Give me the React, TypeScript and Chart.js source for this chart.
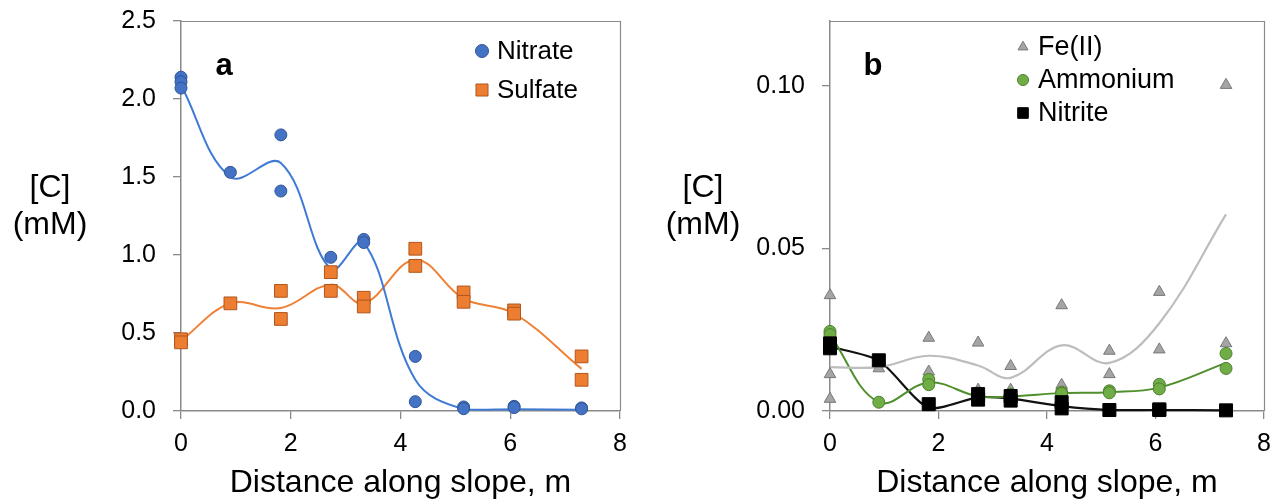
import React, { useEffect, useRef } from 'react';
import { Chart, registerables } from 'chart.js';
import { drawPoint } from 'chart.js/helpers';

Chart.register(...registerables);

const FONT = '"Liberation Sans", Arial, Helvetica, sans-serif';
Chart.defaults.font.family = FONT;

// Sampling stations along the slope (m)
const stationX = [0, 0.9, 1.82, 2.73, 3.33, 4.27, 5.15, 6.07, 7.3];

// Shared axis ticks
const distanceTicks = [0, 2, 4, 6, 8];
const concTicksA = [0, 0.5, 1, 1.5, 2, 2.5];
const concTicksB = [0, 0.05, 0.1];

// Panel a: smoothed trends at each station (mM)
const nitrateTrend = [2.09, 1.5, 1.59, 0.91, 1.08, 0.2, 0.012, 0.012, 0.008];
const sulfateTrend = [0.45, 0.69, 0.66, 0.81, 0.69, 0.97, 0.72, 0.625, 0.27];

// Panel a: replicate measurements
const nitrateX = [0, 0, 0, 0.9, 1.82, 1.82, 2.73, 3.33, 3.33, 4.27, 4.27, 5.15, 5.15, 6.07, 6.07, 7.3, 7.3];
const nitrateY = [2.14, 2.11, 2.07, 1.53, 1.77, 1.41, 0.985, 1.1, 1.08, 0.35, 0.06, 0.026, 0.015, 0.03, 0.022, 0.02, 0.014];
const sulfateX = [0, 0, 0.9, 1.82, 1.82, 2.73, 2.73, 3.33, 3.33, 4.27, 4.27, 5.15, 5.15, 6.07, 6.07, 7.3, 7.3];
const sulfateY = [0.46, 0.44, 0.69, 0.77, 0.59, 0.89, 0.77, 0.726, 0.67, 1.04, 0.93, 0.76, 0.7, 0.645, 0.624, 0.35, 0.2];

// Panel b: smoothed trends at each station (mM)
const feTrend = [0.0135, 0.0135, 0.017, 0.014, 0.0102, 0.0202, 0.0148, 0.027, 0.0605];
const ammoniumTrend = [0.0235, 0.0027, 0.0088, 0.0045, 0.0045, 0.0055, 0.0058, 0.0072, 0.0148];
const nitriteTrend = [0.0198, 0.0155, 0.001, 0.0042, 0.0038, 0.0015, 0.0003, 0.0003, 0.0002];

// Panel b: replicate measurements
const feX = [0, 0, 0, 0.9, 1.82, 1.82, 2.73, 2.73, 3.33, 3.33, 4.27, 4.27, 5.15, 5.15, 6.07, 6.07, 7.3, 7.3];
const feY = [0.0356, 0.0113, 0.0037, 0.0131, 0.0225, 0.0121, 0.021, 0.0065, 0.0138, 0.0065, 0.0325, 0.008, 0.0185, 0.0113, 0.0366, 0.0189, 0.1003, 0.0208];
const ammoniumX = [0, 0, 0.9, 1.82, 1.82, 2.73, 2.73, 3.33, 3.33, 4.27, 4.27, 5.15, 5.15, 6.07, 6.07, 7.3, 7.3];
const ammoniumY = [0.0245, 0.0235, 0.0027, 0.0097, 0.0081, 0.0055, 0.005, 0.0052, 0.0047, 0.0058, 0.0054, 0.0062, 0.0056, 0.0082, 0.0068, 0.0177, 0.0131];
const nitriteX = [0, 0, 0.9, 1.82, 2.73, 2.73, 3.33, 3.33, 4.27, 4.27, 5.15, 6.07, 6.07, 7.3];
const nitriteY = [0.0208, 0.0193, 0.0156, 0.0021, 0.0052, 0.0035, 0.0046, 0.0032, 0.0027, 0.0008, 0.0003, 0.0005, 0.0003, 0.0002];

const AXIS_GREY = '#8a8a8a';

const pts = (xs: number[], ys: number[]) => xs.map((x, i) => ({ x, y: ys[i] }));

function trendSet(values: number[], color: string, width: number, tension: number) {
  return {
    label: '',
    data: pts(stationX, values),
    showLine: true,
    borderColor: color,
    borderWidth: width,
    pointRadius: 0,
    tension,
    fill: false,
    clip: false,
    order: 10,
  };
}

function markerSet(label: string, xs: number[], ys: number[], style: string, radius: number, fill: string, edge: string, order: number, legendRadius: number) {
  return {
    label,
    data: pts(xs, ys),
    showLine: false,
    pointStyle: style,
    pointRadius: radius,
    backgroundColor: fill,
    borderColor: edge,
    borderWidth: 1,
    clip: false,
    order,
    legendRadius,
  };
}

type Decor = {
  letter: string;
  letterX: number;
  yLabelX: number;
  legendMarkerX: number;
  legendTextX: number;
  legendRows: number[];
  legendFont: number;
};

function decorPlugin(d: Decor) {
  return {
    id: 'panelDecor',
    afterDraw(chart: any) {
      const { ctx, chartArea } = chart;
      const { left, top, right, bottom } = chartArea;
      ctx.save();
      // open frame on top and right
      ctx.strokeStyle = AXIS_GREY;
      ctx.lineWidth = 1.2;
      ctx.beginPath();
      ctx.moveTo(left, top + 0.5);
      ctx.lineTo(right + 0.5, top + 0.5);
      ctx.lineTo(right + 0.5, bottom);
      ctx.stroke();

      // vertical axis label, written horizontally
      ctx.fillStyle = '#000';
      ctx.textAlign = 'center';
      ctx.textBaseline = 'middle';
      ctx.font = `32px ${FONT}`;
      ctx.fillText('[C]', d.yLabelX, 188);
      ctx.fillText('(mM)', d.yLabelX, 225);

      // panel letter
      ctx.font = `bold 31px ${FONT}`;
      ctx.fillText(d.letter, d.letterX, 66);

      // legend built from the marker datasets
      const items = chart.data.datasets.filter((ds: any) => ds.label);
      ctx.textAlign = 'left';
      ctx.font = `${d.legendFont}px ${FONT}`;
      items.forEach((ds: any, i: number) => {
        const y = d.legendRows[i];
        ctx.fillStyle = ds.backgroundColor;
        ctx.strokeStyle = ds.borderColor;
        ctx.lineWidth = 1;
        drawPoint(ctx, { pointStyle: ds.pointStyle, radius: ds.legendRadius, rotation: 0, borderWidth: 1 }, d.legendMarkerX, y);
        ctx.fillStyle = '#000';
        ctx.fillText(ds.label, d.legendTextX, y + 1);
      });
      ctx.restore();
    },
  };
}

function axes(yMin: number, yMax: number, yTicks: number[], decimals: number, yWidth: number) {
  const grid = {
    display: true,
    drawOnChartArea: false,
    drawTicks: true,
    tickLength: 8,
    color: AXIS_GREY,
    lineWidth: 1.3,
  };
  const border = { display: true, color: AXIS_GREY, width: 1.5 };
  return {
    x: {
      type: 'linear',
      min: 0,
      max: 8,
      afterBuildTicks: (s: any) => {
        s.ticks = distanceTicks.map((v) => ({ value: v }));
      },
      afterFit: (s: any) => {
        s.height = 93;
      },
      ticks: { font: { size: 25 }, color: '#000', padding: 10 },
      grid,
      border,
      title: {
        display: true,
        text: 'Distance along slope, m',
        font: { size: 32 },
        color: '#000',
        padding: { top: 0, bottom: 2 },
      },
    },
    y: {
      type: 'linear',
      min: yMin,
      max: yMax,
      afterBuildTicks: (s: any) => {
        s.ticks = yTicks.map((v) => ({ value: v }));
      },
      afterFit: (s: any) => {
        s.width = yWidth;
      },
      ticks: {
        // compact line height keeps the end-label allowance inside the top padding
        font: { size: 25, lineHeight: 0.3 },
        color: '#000',
        padding: 17,
        callback: (v: any) => Number(v).toFixed(decimals),
      },
      grid,
      border,
    },
  };
}

function makeConfigA() {
  return {
    type: 'scatter',
    data: {
      datasets: [
        markerSet('Nitrate', nitrateX, nitrateY, 'circle', 6, '#4472C4', '#2F5597', 1, 6.5),
        markerSet('Sulfate', sulfateX, sulfateY, 'rect', 9, '#ED7D31', '#B0561D', 2, 8.5),
        trendSet(nitrateTrend, '#3F7BD4', 2, 0.38),
        trendSet(sulfateTrend, '#EF8036', 2, 0.38),
      ],
    },
    options: {
      responsive: false,
      animation: false,
      events: [],
      layout: { padding: { left: 0, right: 20, top: 21, bottom: 0 } },
      plugins: { legend: { display: false }, tooltip: { enabled: false } },
      scales: axes(0, 2.5, concTicksA, 1, 181),
    },
    plugins: [
      decorPlugin({
        letter: 'a',
        letterX: 224,
        yLabelX: 50,
        legendMarkerX: 482,
        legendTextX: 497,
        legendRows: [51, 90],
        legendFont: 26,
      }),
    ],
  };
}

function makeConfigB() {
  return {
    type: 'scatter',
    data: {
      datasets: [
        markerSet('Fe(II)', feX, feY, 'triangle', 6.7, '#A5A5A5', '#787878', 3, 5.8),
        markerSet('Ammonium', ammoniumX, ammoniumY, 'circle', 6, '#70AD47', '#4E7F2F', 2, 5.5),
        markerSet('Nitrite', nitriteX, nitriteY, 'rect', 9.2, '#000000', '#000000', 1, 7.5),
        trendSet(feTrend, '#BDBDBD', 2.2, 0.38),
        trendSet(ammoniumTrend, '#4F8F2C', 2, 0.38),
        trendSet(nitriteTrend, '#111111', 2.2, 0.25),
      ],
    },
    options: {
      responsive: false,
      animation: false,
      events: [],
      layout: { padding: { left: 0, right: 17, top: 21, bottom: 0 } },
      plugins: { legend: { display: false }, tooltip: { enabled: false } },
      scales: axes(0, 0.12, concTicksB, 2, 190),
    },
    plugins: [
      decorPlugin({
        letter: 'b',
        letterX: 233,
        yLabelX: 63,
        legendMarkerX: 383,
        legendTextX: 398,
        legendRows: [47, 80, 113],
        legendFont: 27,
      }),
    ],
  };
}

function Panel({ width, left, build }: { width: number; left: number; build: () => any }) {
  const ref = useRef<HTMLCanvasElement | null>(null);
  useEffect(() => {
    if (!ref.current) return;
    const chart = new Chart(ref.current, build());
    return () => chart.destroy();
  }, [build]);
  return (
    <canvas
      ref={ref}
      width={width}
      height={504}
      style={{ position: 'absolute', left, top: 0, width, height: 504 }}
    />
  );
}

export default function App() {
  return (
    <div style={{ position: 'absolute', left: 0, top: 0, width: 1281, height: 504, background: '#fff', overflow: 'hidden' }}>
      <Panel width={640} left={0} build={makeConfigA} />
      <Panel width={641} left={640} build={makeConfigB} />
    </div>
  );
}
